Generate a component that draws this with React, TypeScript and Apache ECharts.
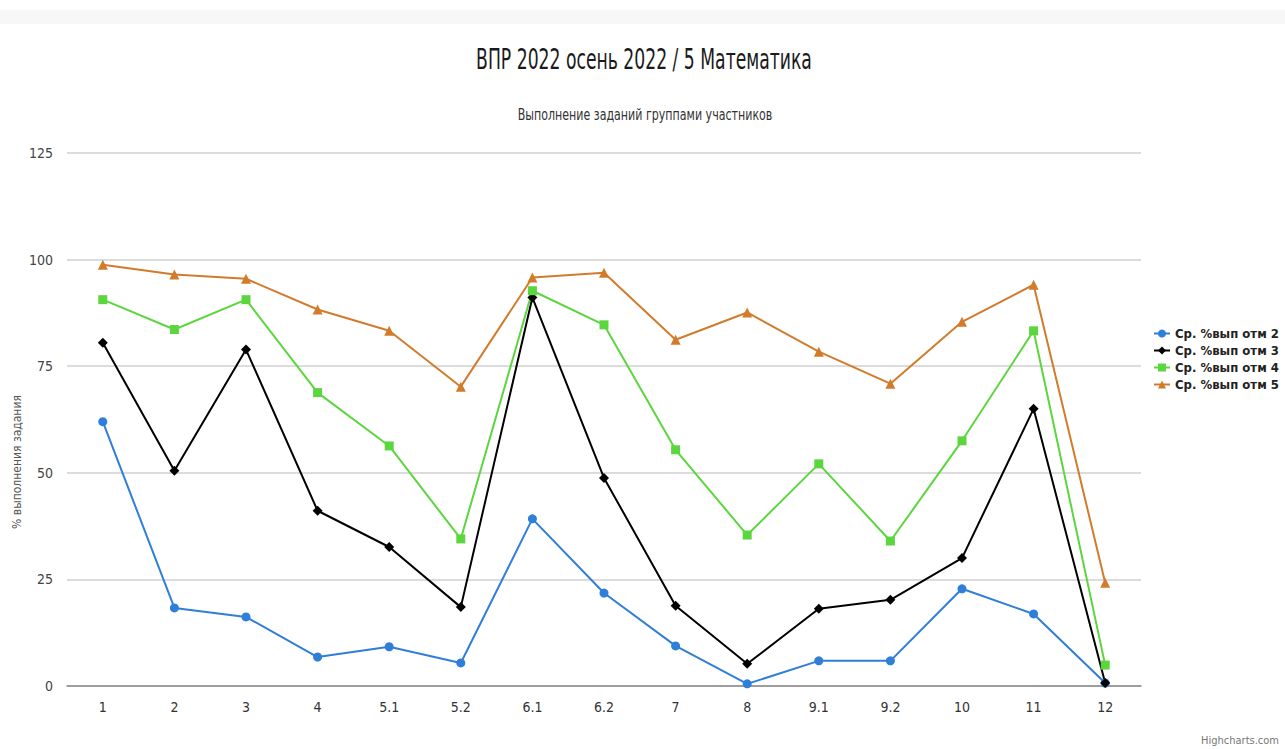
import React, { useEffect, useRef } from "react";
import * as echarts from "echarts";

const categories = ["1", "2", "3", "4", "5.1", "5.2", "6.1", "6.2", "7", "8", "9.1", "9.2", "10", "11", "12"];
const otm2 = [62.0, 18.3, 16.2, 6.8, 9.2, 5.4, 39.2, 21.8, 9.4, 0.5, 5.9, 5.9, 22.8, 16.9, 0.7];
const otm3 = [80.5, 50.5, 78.9, 41.1, 32.6, 18.5, 91.1, 48.8, 18.8, 5.2, 18.1, 20.2, 30.0, 65.0, 0.7];
const otm4 = [90.6, 83.6, 90.6, 68.8, 56.3, 34.5, 92.7, 84.7, 55.4, 35.4, 52.1, 34.0, 57.5, 83.3, 4.9];
const otm5 = [98.8, 96.5, 95.5, 88.3, 83.3, 70.2, 95.8, 96.9, 81.2, 87.6, 78.4, 70.9, 85.4, 94.1, 24.2];
const seriesNames = ["Ср. %вып отм 2", "Ср. %вып отм 3", "Ср. %вып отм 4", "Ср. %вып отм 5"];
const seriesColors = ["#2f7ed8", "#000000", "#5cd63e", "#d27b2b"];
const seriesSymbols = ["circle", "diamond", "rect", "triangle"];
const titleText = "ВПР 2022 осень 2022 / 5 Математика";
const subtitleText = "Выполнение заданий группами участников";
const yAxisTitle = "% выполнения задания";

const FONT = "'DejaVu Sans Condensed', 'Liberation Sans', sans-serif";

export default function App() {
  const ref = useRef<HTMLDivElement>(null);
  useEffect(() => {
    if (!ref.current) return;
    const chart = echarts.init(ref.current, null, { renderer: "svg" });
    const data = [otm2, otm3, otm4, otm5];
    chart.setOption({
      animation: false,
      backgroundColor: "#ffffff",
      textStyle: { fontFamily: FONT },
      legend: {
        orient: "vertical",
        left: 1148,
        top: 322,
        itemGap: 4,
        itemWidth: 16,
        itemHeight: 10,
        textStyle: { fontFamily: FONT, fontSize: 13, color: "#222", fontWeight: "bold" },
        data: seriesNames,
      },
      grid: { left: 67, right: 144, top: 153, bottom: 63 },
      xAxis: {
        type: "category",
        data: categories,
        boundaryGap: true,
        axisLine: { lineStyle: { color: "#888", width: 1.5 } },
        axisTick: { show: false },
        axisLabel: { color: "#333", fontSize: 14, margin: 14, fontFamily: FONT },
      },
      yAxis: {
        type: "value",
        min: 0,
        max: 125,
        interval: 25,
        axisLine: { show: false },
        axisTick: { show: false },
        splitLine: { lineStyle: { color: "#d0d0d0", width: 1.5 } },
        axisLabel: { color: "#444", fontSize: 14, margin: 14, fontFamily: FONT },
      },
      graphic: [
        {
          type: "rect",
          shape: { x: 0, y: 10, width: 1285, height: 14 },
          style: { fill: "#f7f7f7" },
          silent: true,
        },
        {
          type: "text",
          x: 644,
          y: 59,
          scaleX: 0.66,
          style: {
            text: titleText,
            fontFamily: FONT,
            fontSize: 29,
            fill: "#1a1a1a",
            align: "center",
            verticalAlign: "middle",
          },
        },
        {
          type: "text",
          x: 645,
          y: 115,
          scaleX: 0.82,
          style: {
            text: subtitleText,
            fontFamily: FONT,
            fontSize: 15,
            fill: "#333",
            align: "center",
            verticalAlign: "middle",
          },
        },
        {
          type: "text",
          x: 17,
          y: 462,
          rotation: Math.PI / 2,
          style: {
            text: yAxisTitle,
            fontFamily: FONT,
            fontSize: 12,
            fill: "#555",
            align: "center",
            verticalAlign: "middle",
          },
        },
        {
          type: "text",
          right: 6,
          bottom: 3,
          style: { text: "Highcharts.com", fontFamily: FONT, fontSize: 11, fill: "#777" },
        },
      ],
      series: seriesNames.map((name, i) => ({
        name,
        type: "line",
        data: data[i],
        symbol: seriesSymbols[i],
        symbolSize: i === 0 ? 9 : i === 2 ? 9 : 10,
        showAllSymbol: true,
        itemStyle: { color: seriesColors[i] },
        lineStyle: { color: seriesColors[i], width: 2 },
      })),
    });
    return () => chart.dispose();
  }, []);
  return <div ref={ref} style={{ width: 1285, height: 749, position: "absolute", left: 0, top: 0 }} />;
}
